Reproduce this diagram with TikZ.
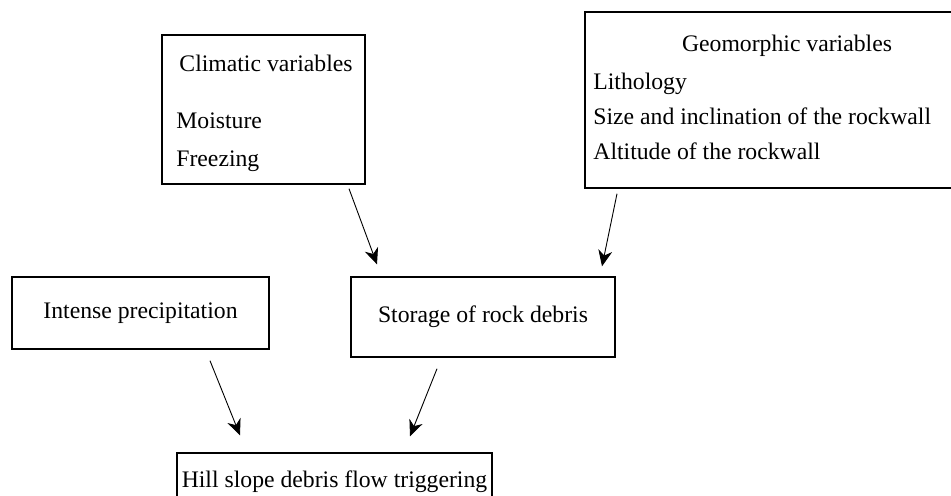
\documentclass[tikz,border=0pt]{standalone}
\usepackage{fontspec}
\setmainfont{Liberation Serif}
\usetikzlibrary{arrows.meta, positioning}

\begin{document}
\begin{tikzpicture}[x=0.5pt, y=-0.5pt,
        font=\fontsize{11.85}{14}\selectfont,
        varbox/.style={rectangle, draw, line width=0.7pt, inner sep=0pt},
        itemtext/.style={anchor=base west, inner sep=0pt},
        titletext/.style={anchor=base, inner sep=0pt},
        flow/.style={-{Stealth[length=8pt, width=7pt, inset=2.5pt]}, line width=0.45pt}]
        \clip (0,0) rectangle (951,495);
        % variable boxes
        \node[varbox, minimum width=101.5pt, minimum height=74.5pt] (Climatic) at (263.5,109.5) { };
        \node[varbox, minimum width=186.5pt, minimum height=88pt] (Geomorphic) at (771.5,100) { };
        \node[titletext] (ClimTitle) at (266,71) {Climatic variables};
        \node[itemtext] (Moisture) at (176,128) {Moisture};
        \node[itemtext] (Freezing) at (176,166) {Freezing};
        \node[titletext] (GeoTitle) at (787,51) {Geomorphic variables};
        \node[itemtext] (Lithology) at (593,89) {Lithology};
        \node[itemtext] (Size) at (593,124) {Size and inclination of the rockwall};
        \node[itemtext] (Altitude) at (593,159) {Altitude of the rockwall};
        % process boxes
        \node[varbox, minimum width=128.5pt, minimum height=36pt] (Intense) at (140.5,313) {Intense precipitation};
        \node[varbox, minimum width=132pt, minimum height=40pt] (Storage) at (483,317) {Storage of rock debris};
        \node[varbox, minimum width=157.5pt, minimum height=29pt] (Hill) at (334.5,482) {Hill slope debris flow triggering};
        \draw[flow] ([xshift=42.75pt, yshift=-2pt] Climatic.south) -- ([xshift=-53pt, yshift=6pt] Storage.north);
        \draw[flow] ([xshift=-77.25pt, yshift=-2.5pt] Geomorphic.south) -- ([xshift=59.5pt, yshift=5pt] Storage.north);
        \draw[flow] ([xshift=34.75pt, yshift=-5.5pt] Intense.south) -- ([xshift=-47.25pt, yshift=8.5pt] Hill.north);
        \draw[flow] ([xshift=-23pt, yshift=-5.5pt] Storage.south) -- ([xshift=37.75pt, yshift=8pt] Hill.north);
    \end{tikzpicture}
\end{document}
